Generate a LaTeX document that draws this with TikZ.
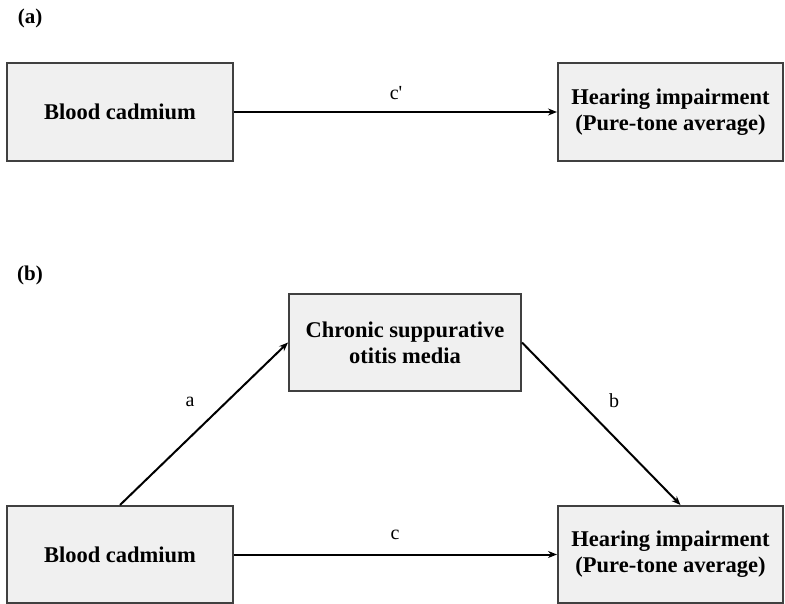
\documentclass[tikz,border=0pt]{standalone}
\usepackage{fontspec}
\setmainfont{Liberation Serif}
\usetikzlibrary{arrows.meta}
\definecolor{boxfill}{HTML}{F0F0F0}
\definecolor{boxline}{HTML}{404040}
\tikzset{
  box/.style={draw=boxline, fill=boxfill, line width=2pt, align=center,
    font=\fontsize{22.5}{26}\selectfont\bfseries, inner sep=0pt},
  conn/.style={line width=2pt, -{Stealth[length=9pt,width=7pt]}},
  lbl/.style={font=\fontsize{20}{22}\selectfont, inner sep=0pt},
  tag/.style={font=\fontsize{21}{23}\selectfont\bfseries, inner sep=0pt}
}
\begin{document}
\begin{tikzpicture}[x=1pt,y=-1pt]
\useasboundingbox (0,0) rectangle (785,604);
\node[tag] (ta) at (30,18) {(a)};
\node[tag] (tb) at (30,275) {(b)};
\node[box, minimum width=226pt, minimum height=98pt] (A1) at (120,112) {Blood cadmium};
\node[box, minimum width=225pt, minimum height=98pt] (A2) at (670.5,112) {Hearing impairment\\(Pure-tone average)};
\node[box, minimum width=232pt, minimum height=97pt] (M) at (405,342.5) {Chronic suppurative\\otitis media};
\node[box, minimum width=226pt, minimum height=97pt] (B1) at (120,554.5) {Blood cadmium};
\node[box, minimum width=225pt, minimum height=97pt] (B2) at (670.5,554.5) {Hearing impairment\\(Pure-tone average)};
\draw[conn] (A1.east) -- (A2.west);
\draw[conn] (B1.north) -- (M.west);
\draw[conn] (M.east) -- ([xshift=10pt]B2.north);
\draw[conn] (B1.east) -- (B2.west);
\node[lbl] (lc1) at (396,93) {c\textquotesingle};
\node[lbl] (la) at (190,402) {a};
\node[lbl] (lb) at (614,401) {b};
\node[lbl] (lc) at (395,535) {c};
\end{tikzpicture}
\end{document}
